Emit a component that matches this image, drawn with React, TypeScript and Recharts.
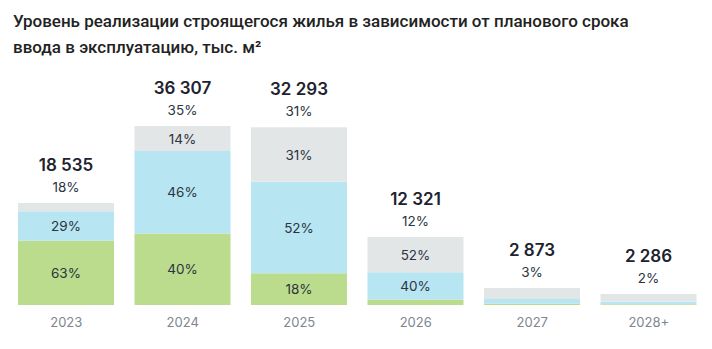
import { BarChart, Bar, XAxis, YAxis, LabelList } from "recharts";

// годы ввода
const years = ["2023", "2024", "2025", "2026", "2027", "2028+"];
// объём строящегося жилья, тыс. м²
const totals = [18535, 36307, 32293, 12321, 2873, 2286];
// доля года в общем объёме, %
const shares = [18, 35, 31, 12, 3, 2];
// высота столбика на картинке (условные единицы)
const barLevel = [102, 179, 176, 68, 17, 11];
// структура реализации внутри столбика, %
const greenPct = [63, 40, 18, 8, 7, 6];
const bluePct = [29, 46, 52, 40, 28, 24];
const grayPct = [8, 14, 31, 52, 65, 70];

const data = years.map((year, i) => ({
  year,
  total: totals[i],
  share: shares[i],
  greenPct: greenPct[i],
  bluePct: bluePct[i],
  grayPct: grayPct[i],
  green: (barLevel[i] * greenPct[i]) / 100,
  blue: (barLevel[i] * bluePct[i]) / 100,
  gray: (barLevel[i] * grayPct[i]) / 100,
}));

const FONT = "Inter, 'Noto Sans', sans-serif";

const fmt = (n: number) => String(n).replace(/\B(?=(\d{3})+(?!\d))/g, " ");

function segmentLabel(key: "greenPct" | "bluePct" | "grayPct") {
  return (props: any) => {
    const { x, y, width, height, index } = props;
    if (height < 20) return null;
    return (
      <text
        x={x + width / 2}
        y={y + height / 2}
        textAnchor="middle"
        dominantBaseline="central"
        fontFamily={FONT}
        fontSize={13.5}
        fill="#2b3440"
      >
        {data[index][key]}%
      </text>
    );
  };
}

const topLabel = (props: any) => {
  const { x, y, width, index } = props;
  const cx = x + width / 2;
  return (
    <g>
      <text
        x={cx}
        y={y - 38}
        textAnchor="middle"
        dominantBaseline="central"
        fontFamily={FONT}
        fontSize={17}
        fontWeight={600}
        fill="#1d232e"
      >
        {fmt(data[index].total)}
      </text>
      <text
        x={cx}
        y={y - 16}
        textAnchor="middle"
        dominantBaseline="central"
        fontFamily={FONT}
        fontSize={13.5}
        fill="#2b3440"
      >
        {data[index].share}%
      </text>
    </g>
  );
};

const YearTick = (props: any) => {
  const { x, y, payload } = props;
  return (
    <text
      x={x}
      y={y + 17}
      textAnchor="middle"
      dominantBaseline="central"
      fontFamily={FONT}
      fontSize={13}
      fill="#80868f"
    >
      {payload.value}
    </text>
  );
};

export default function App() {
  return (
    <div style={{ position: "absolute", left: 0, top: 0, width: 712, height: 349, background: "#fff" }}>
      <div
        style={{
          position: "absolute",
          left: 13,
          top: 8,
          fontFamily: "Roboto, sans-serif",
          fontWeight: 500,
          fontSize: 17,
          lineHeight: "26px",
          color: "#222",
        }}
      >
        Уровень реализации строящегося жилья в зависимости от планового срока
        <br />
        ввода в эксплуатацию, тыс. м²
      </div>
      <BarChart
        width={712}
        height={349}
        data={data}
        margin={{ top: 126, right: 5, bottom: 14, left: 8 }}
        barSize={96}
      >
        <XAxis
          dataKey="year"
          axisLine={false}
          tickLine={false}
          tickSize={0}
          tickMargin={0}
          height={30}
          tick={<YearTick />}
          interval={0}
        />
        <YAxis hide domain={[0, 179]} />
        <Bar dataKey="green" stackId="a" fill="#bbdc8c" isAnimationActive={false}>
          <LabelList content={segmentLabel("greenPct")} />
        </Bar>
        <Bar dataKey="blue" stackId="a" fill="#b8e5f2" isAnimationActive={false}>
          <LabelList content={segmentLabel("bluePct")} />
        </Bar>
        <Bar dataKey="gray" stackId="a" fill="#e3e6e7" isAnimationActive={false}>
          <LabelList content={segmentLabel("grayPct")} />
          <LabelList content={topLabel} />
        </Bar>
      </BarChart>
    </div>
  );
}
